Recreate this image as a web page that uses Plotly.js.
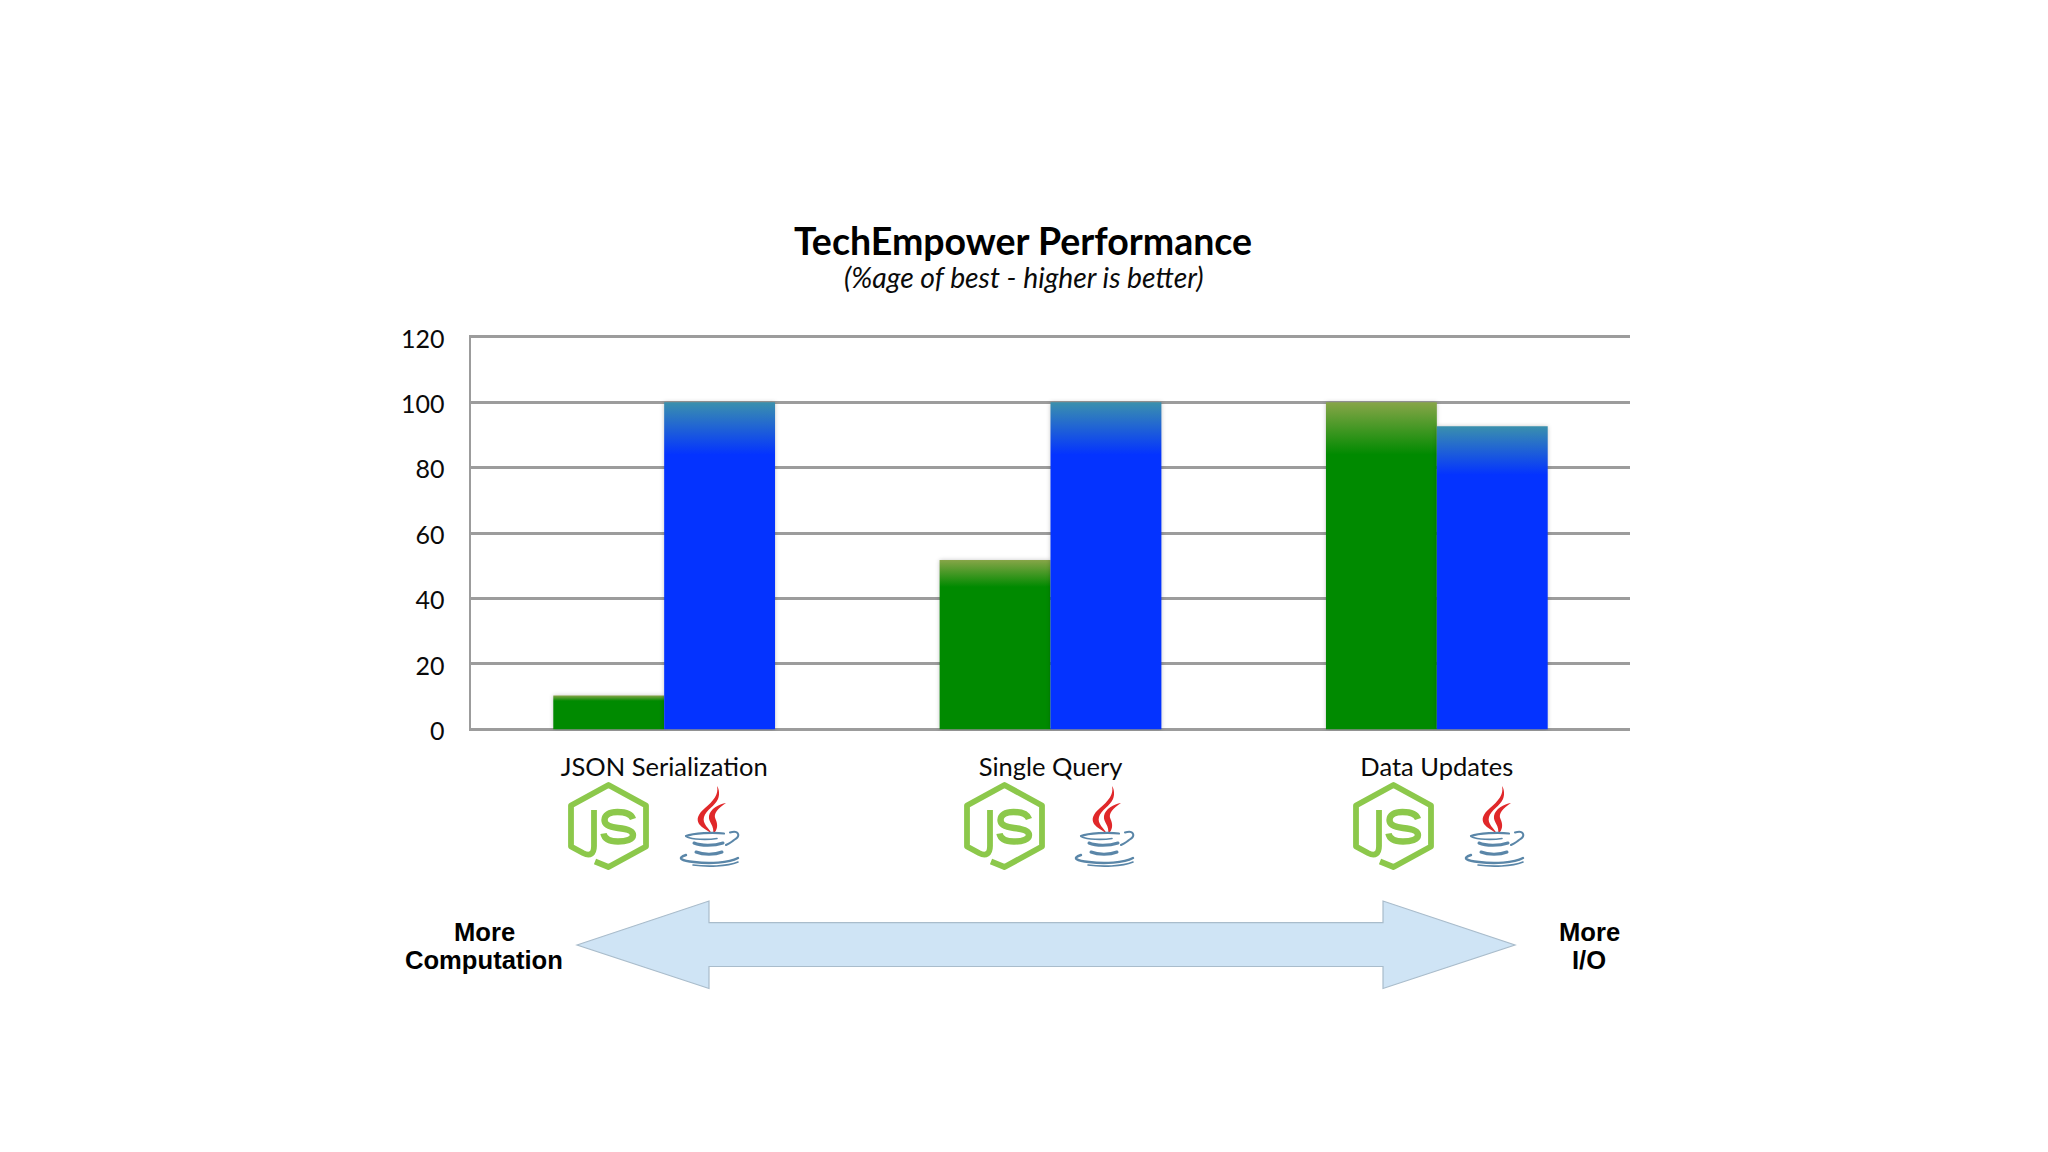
<!DOCTYPE html>
<html>
<head>
<meta charset="utf-8">
<script src="https://cdn.plot.ly/plotly-3.0.1.min.js"></script>
<style>html,body{margin:0;padding:0;background:#fff}#chart{width:2048px;height:1152px}</style>
</head>
<body>
<div id="chart"></div>
<script>
const categories = ["JSON Serialization", "Single Query", "Data Updates"];
const nodeValues = [10.3, 51.8, 100];
const javaValues = [100, 100, 92.7];
const yTicks = [0, 20, 40, 60, 80, 100, 120];

const W = 2048, H = 1152;
const plotL = 471, plotR = 1630, plotT = 335, plotB = 731;
const px = x => (x - plotL) / (plotR - plotL);
const py = y => (plotB - y) / (plotB - plotT);

const nodeSvg = `<svg xmlns="http://www.w3.org/2000/svg" viewBox="0 0 81 88" width="324" height="352">
<g fill="none" stroke="#8cc84b" stroke-width="5.8" stroke-linejoin="round">
<path d="M27,79.5 L40.5,85 L78,64.5 L78,23.5 L40.5,3 L3,23.5 L3,64.5 L15,71 C22,74.5 26,72 26,64 L26,28"/>
<path stroke-width="6.4" d="M65,37 C63,31.5 56,30 49.5,30 C41,30 36.5,33 36.5,38 C36.5,43 41,45 50,46 C60,47 65,49 65,53 C65,57.5 58,59.5 50,59.5 C42,59.5 36.5,57 35.5,51.5"/>
</g></svg>`;

const javaSvg = `<svg xmlns="http://www.w3.org/2000/svg" viewBox="0 0 61 81" width="244" height="324">
<g fill="#e0282a">
<path d="M38,0 C40,9 34,15 26,22 C19,28 17,33 20,38 C23,42 28,44 33,48 C30,42 23,38 25,31 C27,24 36,20 39,13 C41,8 40,3 38,0Z"/>
<path d="M47,17 C40,18 31,23 30,30 C29,36 36,40 34,48 C39,44 39,38 36.5,33 C34,28 39,22 47,17Z"/>
</g>
<g fill="none" stroke="#5a86a8" stroke-linecap="round">
<path stroke-width="2.2" d="M7,50 C14,47 35,46 45,47.5"/>
<path stroke-width="1.6" d="M8,51 C13,53.5 28,54 38,52.5"/>
<path stroke-width="2" d="M51,46.5 C60,44 62,50 55,54 C53,56 50,57.5 47,59"/>
<path stroke-width="3" d="M15,57 C22,60 35,60 44,57"/>
<path stroke-width="3" d="M17,66 C24,69 36,69 43,66"/>
<path stroke-width="2.4" d="M7,69 C-3,72 3,75 15,76 C30,78 50,77 59,72"/>
<path stroke-width="1.6" d="M14,79 C28,81 48,80.5 59,76"/>
</g></svg>`;

const dataUri = s => "data:image/svg+xml;charset=utf-8," + encodeURIComponent(s);
const logoImage = (svg, x0, x1, y0, y1) => ({
  source: dataUri(svg), xref: "paper", yref: "paper",
  x: px(x0), y: py(y0), sizex: px(x1) - px(x0), sizey: py(y0) - py(y1),
  xanchor: "left", yanchor: "top", sizing: "stretch", layer: "above"
});

const images = [
  logoImage(nodeSvg, 568, 649, 782, 870), logoImage(javaSvg, 679, 740, 786, 867),
  logoImage(nodeSvg, 964, 1045, 782, 870), logoImage(javaSvg, 1074, 1135, 786, 867),
  logoImage(nodeSvg, 1353, 1434, 782, 870), logoImage(javaSvg, 1464, 1525, 786, 867)
];

const arrowPts = [[577,945],[709,901],[709,922.7],[1383,922.7],[1383,901],[1515,945],[1383,988.5],[1383,966.5],[709,966.5],[709,988.5]];
const arrowPath = "M" + arrowPts.map(p => px(p[0]).toFixed(5) + "," + py(p[1]).toFixed(5)).join(" L") + " Z";

const sideFont = {family: '"Liberation Sans", Arial, sans-serif', size: 25.6, color: "#000"};
const sideLabel = (t, x, y) => ({
  text: "<b>" + t + "</b>", xref: "paper", yref: "paper", x: px(x), y: py(y),
  xanchor: "center", yanchor: "middle", showarrow: false, font: sideFont
});

const traces = [
  {type: "bar", name: "Node.js", x: categories, y: nodeValues, marker: {color: "#008a00", line: {width: 0}}, hoverinfo: "x+y+name"},
  {type: "bar", name: "Java", x: categories, y: javaValues, marker: {color: "#0433ff", line: {width: 0}}, hoverinfo: "x+y+name"}
];

const gridColor = "#9c9c9c";
const fontFamily = 'Lato, "Noto Sans", sans-serif';

const layout = {
  width: W, height: H,
  margin: {l: plotL, r: W - plotR, t: plotT, b: H - plotB, pad: 0},
  paper_bgcolor: "#fff", plot_bgcolor: "#fff",
  showlegend: false, barmode: "group", bargap: 0.426, bargroupgap: 0,
  title: {
    text: "<b>TechEmpower Performance</b>",
    x: 1023 / W, xref: "container", xanchor: "center",
    y: 1 - 241.5 / H, yref: "container", yanchor: "middle",
    font: {family: fontFamily, size: 37.5, color: "#000"}
  },
  xaxis: {
    type: "category", categoryarray: categories, showgrid: false, zeroline: false,
    showline: false,
    ticks: "", ticklabelstandoff: 18, tickfont: {family: fontFamily, size: 25.5, color: "#0a0a0a"}, fixedrange: true
  },
  yaxis: {
    range: [-0.55, 120.61], tickmode: "array", tickvals: yTicks, ticktext: yTicks.map(String),
    showgrid: true, gridcolor: gridColor, gridwidth: 3, zeroline: false,
    showline: true, linecolor: gridColor, linewidth: 2.4,
    ticks: "", ticklabelstandoff: 19, ticklabelshift: 2, tickfont: {family: fontFamily, size: 25, color: "#0a0a0a"}, fixedrange: true
  },
  shapes: [{type: "path", xref: "paper", yref: "paper", path: arrowPath, fillcolor: "#cfe4f5", line: {color: "#a9bccb", width: 1.2}, layer: "above"}],
  images: images,
  annotations: [
    {text: "<i>(%age of best - higher is better)</i>", xref: "paper", yref: "paper", x: px(1024), y: py(277.3),
     xanchor: "center", yanchor: "middle", showarrow: false, font: {family: fontFamily, size: 28.3, color: "#0a0a0a"}},
    sideLabel("More", 484, 931.7), sideLabel("Computation", 484, 959.7),
    sideLabel("More", 1589, 931.7), sideLabel("I/O", 1589, 959.7)
  ]
};

Plotly.newPlot("chart", traces, layout, {displayModeBar: false, staticPlot: true}).then(gd => {
  const NS = "http://www.w3.org/2000/svg";
  const svg = gd.querySelector("svg.main-svg");
  const defs = svg.querySelector("defs") || svg.insertBefore(document.createElementNS(NS, "defs"), svg.firstChild);
  const grads = [["barFadeNode", "#87a548", "#008a00"], ["barFadeJava", "#3a90ad", "#0433ff"]];
  grads.forEach(([id, top, base]) => {
    const g = document.createElementNS(NS, "linearGradient");
    g.setAttribute("id", id);
    g.setAttribute("x1", "0"); g.setAttribute("y1", "0"); g.setAttribute("x2", "0"); g.setAttribute("y2", "1");
    [[0, top], [0.16, base], [1, base]].forEach(([o, c]) => {
      const s = document.createElementNS(NS, "stop");
      s.setAttribute("offset", o); s.setAttribute("stop-color", c);
      g.appendChild(s);
    });
    defs.appendChild(g);
  });
  gd.querySelectorAll("g.trace.bars").forEach((tr, i) => {
    tr.querySelectorAll("g.point path").forEach(p => {
      p.style.fill = "url(#" + grads[i][0] + ")";
      p.style.filter = "drop-shadow(0 0 2px rgba(0,0,0,0.22))";
    });
  });
});
</script>
</body>
</html>
